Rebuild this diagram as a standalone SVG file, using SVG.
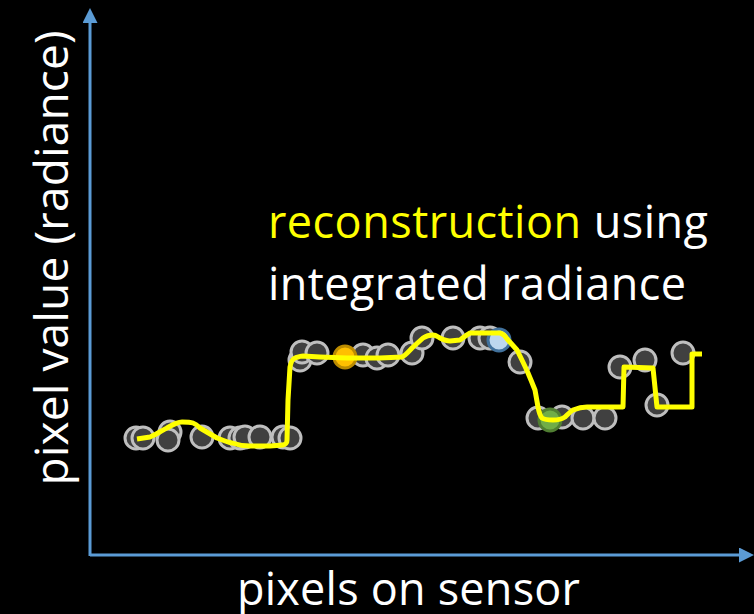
<svg xmlns="http://www.w3.org/2000/svg" width="754" height="614" viewBox="0 0 754 614">
<style>
.txt{font-family:"Open Sans","Noto Sans",sans-serif;fill:#FFFFFF}
.dot{fill:#404040;stroke:#BFBFBF;stroke-width:3}
.axis{stroke:#5B9BD5;stroke-width:3;fill:none}
.curve{stroke:#FFFF00;stroke-width:5;fill:none;stroke-linejoin:round;stroke-linecap:butt}
</style>
<defs>
<marker id="arr" viewBox="0 0 10 10" refX="2" refY="5" markerWidth="5" markerHeight="5" orient="auto" markerUnits="strokeWidth">
<path d="M0,0 L10,5 L0,10 Z" fill="#5B9BD5"/>
</marker>
</defs>
<rect width="754" height="614" fill="#000000"/>
<g id="axes">
<line class="axis" x1="90" y1="556" x2="90" y2="20" marker-end="url(#arr)"/>
<line class="axis" x1="90" y1="555" x2="742" y2="555" marker-end="url(#arr)"/>
</g>
<g id="dots">
<circle class="dot" cx="136" cy="438" r="11"/>
<circle class="dot" cx="143" cy="438" r="11"/>
<circle class="dot" cx="170" cy="432" r="11"/>
<circle class="dot" cx="168" cy="440" r="11"/>
<circle class="dot" cx="202" cy="437" r="11"/>
<circle class="dot" cx="230" cy="438" r="11"/>
<circle class="dot" cx="240" cy="438" r="11"/>
<circle class="dot" cx="245" cy="437" r="11"/>
<circle class="dot" cx="260" cy="437" r="11"/>
<circle class="dot" cx="283" cy="437" r="11"/>
<circle class="dot" cx="290" cy="438" r="11"/>
<circle class="dot" cx="300" cy="360" r="11"/>
<circle class="dot" cx="302" cy="352" r="11"/>
<circle class="dot" cx="317" cy="353" r="11"/>
<circle class="dot" cx="363" cy="355" r="11"/>
<circle class="dot" cx="377" cy="358" r="11"/>
<circle class="dot" cx="388" cy="355" r="11"/>
<circle class="dot" cx="412" cy="353" r="11"/>
<circle class="dot" cx="422" cy="338" r="11"/>
<circle class="dot" cx="453" cy="338" r="11"/>
<circle class="dot" cx="480" cy="338" r="11"/>
<circle class="dot" cx="490" cy="338" r="11"/>
<circle class="dot" cx="520" cy="362" r="11"/>
<circle class="dot" cx="538" cy="418" r="11"/>
<circle class="dot" cx="562" cy="417" r="11"/>
<circle class="dot" cx="583" cy="418" r="11"/>
<circle class="dot" cx="605" cy="418" r="11"/>
<circle class="dot" cx="620" cy="367" r="11"/>
<circle class="dot" cx="645" cy="360" r="11"/>
<circle class="dot" cx="657" cy="405" r="11"/>
<circle class="dot" cx="683" cy="353" r="11"/>
<circle cx="345" cy="357" r="11" fill="#FFC000" stroke="#BC8C00" stroke-width="3"/>
<circle cx="499" cy="340" r="11" fill="#BDD7EE" stroke="#41719C" stroke-width="3"/>
<circle cx="550" cy="420" r="11" fill="#70AD47" stroke="#507E32" stroke-width="3"/>
</g>
<g id="connectors">
<path class="curve" d="M137,439 L150,437 C158,434 162,430 167,428 C172,425 177,422 182,422 C187,422 190,422 193,423 C196,424 198,426 200,428 L217,438 C222,440 227,442 232,443 C238,445 244,446 250,446 L270,446 L283,445 C286,444 287,443 287,440 L288,400 L290,367 C291,362 292,359 295,358 C298,357 300,356 303,356 L320,357 L347,358 L380,358 L402,357 C406,355 409,351 412,348 L423,338 C426,336 430,335 433,335 C436,335 438,337 440,338 C444,340 447,341 450,341 L460,340 C463,338 466,335 470,333 L483,333 L500,333 C504,334 506,337 508,340 L517,350 C521,358 525,366 528,373 C531,380 533,385 535,390 L538,407 C539,412 540,416 542,418 C545,420 549,420 553,420 C558,420 562,419 565,417 C568,414 570,412 573,410 C578,408 582,407 587,407 L623,407 L624,367 L653,368 L657,407 L692,407 L692,354 L702,354"/>
</g>
<g id="labels">
<text class="txt" x="0" y="0" font-size="46" text-anchor="middle" textLength="455" lengthAdjust="spacing" transform="translate(68,258) rotate(-90)">pixel value (radiance)</text>
<text class="txt" x="268" y="238" font-size="45" textLength="440" lengthAdjust="spacing"><tspan fill="#FFFF00">reconstruction</tspan> using</text>
<text class="txt" x="268" y="300" font-size="45" textLength="418" lengthAdjust="spacing">integrated radiance</text>
<text class="txt" x="237" y="605" font-size="45" textLength="343" lengthAdjust="spacing">pixels on sensor</text>
</g>
</svg>
